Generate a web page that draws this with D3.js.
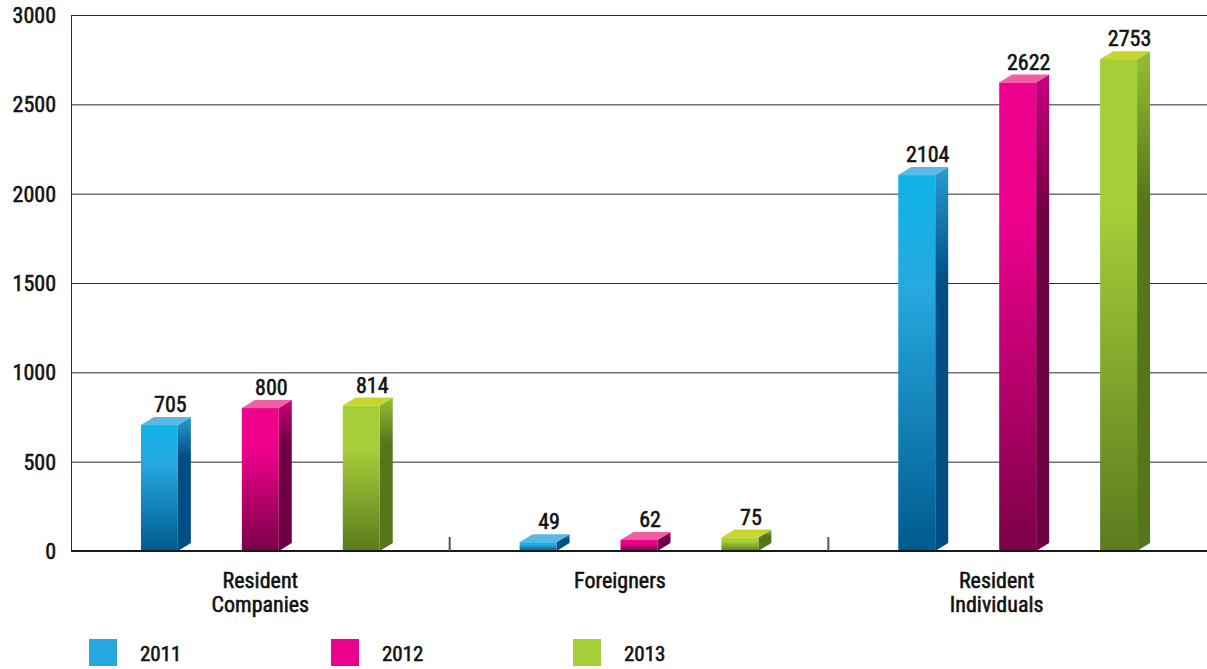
<!DOCTYPE html>
<html>
<head>
<meta charset="utf-8">
<script src="https://cdn.jsdelivr.net/npm/d3@7"></script>
<style>
  html, body { margin: 0; padding: 0; background: #fff; }
  svg { display: block; }
  text { font-family: 'Liberation Sans Narrow', 'Arial Narrow', 'Roboto Condensed', sans-serif; font-weight: normal; fill: #111; stroke: #111; stroke-width: 0.55px; }
</style>
</head>
<body>
<div id="chart"></div>
<script>
// data
var categories = ['Resident Companies', 'Foreigners', 'Resident Individuals'];
var categoryLines = [['Resident', 'Companies'], ['Foreigners'], ['Resident', 'Individuals']];
var years = ['2011', '2012', '2013'];
var values2011 = [705, 49, 2104];
var values2012 = [800, 62, 2622];
var values2013 = [814, 75, 2753];
var yTicks = [0, 500, 1000, 1500, 2000, 2500, 3000];

var W = 1207, H = 669;
var plotLeft = 71, plotRight = 1207, plotTop = 15, plotBottom = 551;
var depthX = 13, depthY = 8;
// the category labels in the original sit a little left of the band centre
var labelShift = [0, -19, -21];

// colours per year: front top / front bottom / side top / side bottom / top face / legend
var palette = {
  '2011': { f0: '#0fb3e8', f1: '#005a8f', s0: '#2b9ad3', s1: '#004e84', t: '#5bb7e4', legend: '#26a9e0' },
  '2012': { f0: '#ec008c', f1: '#7c0048', s0: '#c9007c', s1: '#6e0043', t: '#ef5fa2', legend: '#ec008c' },
  '2013': { f0: '#a6ce39', f1: '#5a7b1f', s0: '#97bf34', s1: '#55761b', t: '#c8d42f', legend: '#a6ce39' }
};

var series = years.map(function(yr, i) {
  return { year: yr, values: [values2011, values2012, values2013][i] };
});

var svg = d3.select('#chart').append('svg')
  .attr('width', W).attr('height', H);

var defs = svg.append('defs');
years.forEach(function(yr) {
  var p = palette[yr];
  var gf = defs.append('linearGradient').attr('id', 'front' + yr)
    .attr('x1', 0).attr('y1', 0).attr('x2', 0).attr('y2', 1);
  gf.append('stop').attr('offset', '0').attr('stop-color', p.f0);
  gf.append('stop').attr('offset', '0.3').attr('stop-color', p.legend);
  gf.append('stop').attr('offset', '1').attr('stop-color', p.f1);

  var gs = defs.append('linearGradient').attr('id', 'side' + yr)
    .attr('x1', 0).attr('y1', 0).attr('x2', 0).attr('y2', 1);
  gs.append('stop').attr('offset', '0').attr('stop-color', p.s0);
  gs.append('stop').attr('offset', '0.3').attr('stop-color', p.s1);
  gs.append('stop').attr('offset', '1').attr('stop-color', p.s1);
});

var x = d3.scaleBand().domain(categories).range([plotLeft, plotRight]).padding(0);
var xInner = d3.scaleBand().domain(years).range([0, x.bandwidth()])
  .paddingInner(0.634).paddingOuter(0.693);
var y = d3.scaleLinear().domain([0, 3000]).range([plotBottom, plotTop]);

// grid lines
svg.append('g').selectAll('line')
  .data(yTicks.filter(function(t) { return t > 0; }))
  .enter().append('line')
  .attr('x1', plotLeft).attr('x2', plotRight)
  .attr('y1', function(d) { return y(d) + 0.5; })
  .attr('y2', function(d) { return y(d) + 0.5; })
  .attr('stroke', '#2a2a2a').attr('stroke-width', 1);

// y axis line
svg.append('line')
  .attr('x1', plotLeft + 0.5).attr('x2', plotLeft + 0.5)
  .attr('y1', plotTop).attr('y2', plotBottom)
  .attr('stroke', '#2a2a2a').attr('stroke-width', 1);

// y tick labels
svg.append('g').selectAll('text')
  .data(yTicks).enter().append('text')
  .attr('x', 56)
  .attr('y', function(d) { return y(d) + 8; })
  .attr('text-anchor', 'end')
  .attr('font-size', '22px')
  .text(function(d) { return d; });

// bars
var bars = [];
series.forEach(function(s) {
  s.values.forEach(function(v, i) {
    bars.push({ year: s.year, cat: categories[i], value: v });
  });
});

var g = svg.append('g');
var w = xInner.bandwidth();

bars.forEach(function(d) {
  var x0 = x(d.cat) + xInner(d.year);
  var yt = y(d.value), yb = y(0);
  var p = palette[d.year];

  // side face
  g.append('path')
    .attr('d', 'M' + (x0 + w) + ',' + yt +
      'L' + (x0 + w + depthX) + ',' + (yt - depthY) +
      'L' + (x0 + w + depthX) + ',' + (yb - depthY) +
      'L' + (x0 + w) + ',' + yb + 'Z')
    .attr('fill', 'url(#side' + d.year + ')');

  // top face
  g.append('path')
    .attr('d', 'M' + x0 + ',' + yt +
      'L' + (x0 + w) + ',' + yt +
      'L' + (x0 + w + depthX) + ',' + (yt - depthY) +
      'L' + (x0 + depthX) + ',' + (yt - depthY) + 'Z')
    .attr('fill', p.t);

  // front face
  g.append('rect')
    .attr('x', x0).attr('y', yt)
    .attr('width', w).attr('height', yb - yt)
    .attr('fill', 'url(#front' + d.year + ')');

  // value label
  g.append('text')
    .attr('x', x0 + (w + depthX) / 2 + 4.5)
    .attr('y', yt - depthY - 5)
    .attr('text-anchor', 'middle')
    .attr('font-size', '22px')
    .text(d.value);
});

// x axis line
svg.append('line')
  .attr('x1', plotLeft).attr('x2', plotRight)
  .attr('y1', plotBottom).attr('y2', plotBottom)
  .attr('stroke', '#1a1a1a').attr('stroke-width', 2);

// category separators (rise above the axis)
svg.append('g').selectAll('line')
  .data(categories.slice(1)).enter().append('line')
  .attr('x1', function(d) { return x(d); })
  .attr('x2', function(d) { return x(d); })
  .attr('y1', plotBottom - 14).attr('y2', plotBottom)
  .attr('stroke', '#555').attr('stroke-width', 2);

// category labels
categories.forEach(function(c, i) {
  var cx = x(c) + x.bandwidth() / 2 + labelShift[i];
  var t = svg.append('text')
    .attr('x', cx)
    .attr('y', 588)
    .attr('text-anchor', 'middle')
    .attr('font-size', '22px');
  categoryLines[i].forEach(function(line, j) {
    t.append('tspan')
      .attr('x', cx)
      .attr('dy', j === 0 ? 0 : 24)
      .text(line);
  });
});

// legend
var legend = svg.append('g').selectAll('g')
  .data(years).enter().append('g')
  .attr('transform', function(d, i) { return 'translate(' + (89 + i * 242) + ',639)'; });
legend.append('rect')
  .attr('width', 28).attr('height', 27)
  .attr('fill', function(d) { return palette[d].legend; });
legend.append('text')
  .attr('x', 51).attr('y', 22)
  .attr('font-size', '21px')
  .text(function(d) { return d; });
</script>
</body>
</html>
